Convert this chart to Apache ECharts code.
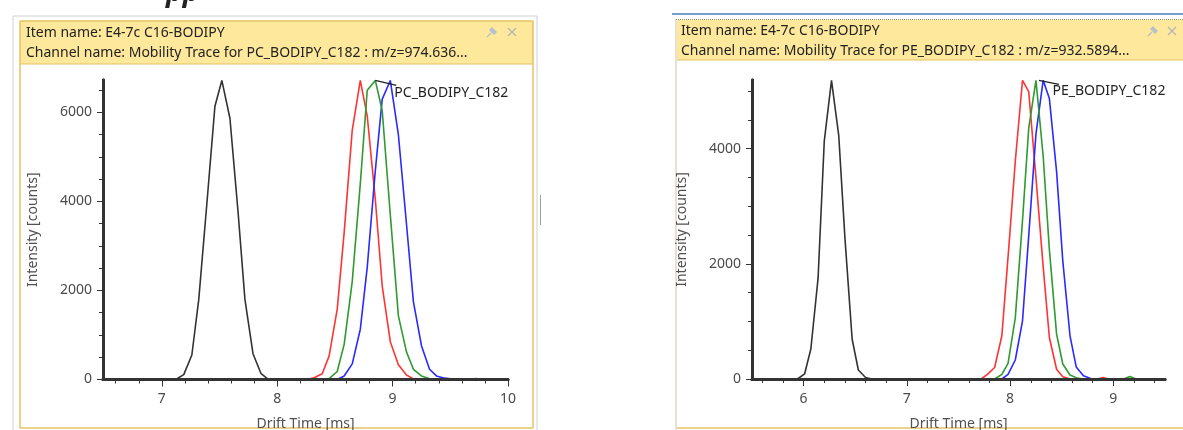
<!DOCTYPE html>
<html>
<head>
<meta charset="utf-8">
<script src="https://cdn.jsdelivr.net/npm/echarts@6/dist/echarts.min.js"></script>
<style>
html, body { margin: 0; padding: 0; background: #fff; }
#main { width: 1183px; height: 430px; }
</style>
</head>
<body>
<div id="main"></div>
<script>
var FONT = '"Noto Sans", "Open Sans", sans-serif';

// left panel: PC_BODIPY_C182, [drift time ms, intensity counts]
var pcItem = 'Item name: E4-7c C16-BODIPY';
var pcChannel = 'Channel name: Mobility Trace for PC_BODIPY_C182 : m/z=974.636...';
var pcLabel = 'PC_BODIPY_C182';
var pcBlack = [[6.49,0],[7.12,0],[7.19,110],[7.26,550],[7.32,1800],[7.39,3950],[7.46,6140],[7.52,6720],[7.59,5870],[7.66,3780],[7.72,1800],[7.79,580],[7.86,130],[7.92,10],[7.99,0],[10,0]];
var pcRed = [[6.49,0],[8.26,0],[8.32,40],[8.39,130],[8.45,530],[8.52,1580],[8.58,3300],[8.65,5600],[8.72,6720],[8.78,5920],[8.85,4050],[8.91,2100],[8.98,850],[9.05,330],[9.12,100],[9.18,15],[9.25,0],[10,0]];
var pcGreen = [[6.49,0],[8.38,0],[8.45,20],[8.52,180],[8.58,790],[8.65,2200],[8.72,4400],[8.78,6500],[8.85,6720],[8.91,6040],[8.98,3700],[9.05,1430],[9.12,620],[9.18,230],[9.25,80],[9.32,15],[9.38,0],[9.65,0],[9.72,20],[9.78,0],[10,0]];
var pcBlue = [[6.49,0],[8.52,0],[8.58,80],[8.65,350],[8.72,1130],[8.78,2520],[8.85,4690],[8.91,6300],[8.98,6720],[9.05,5500],[9.12,3500],[9.18,1750],[9.25,760],[9.32,230],[9.38,80],[9.45,30],[9.52,8],[9.58,0],[10,0]];
var pcTimeTicks = [7, 8, 9, 10];
var pcTimeMinor = [6.6, 6.8, 7.2, 7.4, 7.6, 7.8, 8.2, 8.4, 8.6, 8.8, 9.2, 9.4, 9.6, 9.8];
var pcCountTicks = [0, 2000, 4000, 6000];
var pcCountMinor = [500, 1000, 1500, 2500, 3000, 3500, 4500, 5000, 5500, 6500];

// right panel: PE_BODIPY_C182
var peItem = 'Item name: E4-7c C16-BODIPY';
var peChannel = 'Channel name: Mobility Trace for PE_BODIPY_C182 : m/z=932.5894...';
var peLabel = 'PE_BODIPY_C182';
var peBlack = [[5.5,0],[5.94,0],[6.01,90],[6.07,520],[6.14,1750],[6.20,4130],[6.27,5185],[6.34,4230],[6.40,2450],[6.47,690],[6.53,156],[6.60,25],[6.66,0],[9.5,0]];
var peRed = [[5.5,0],[7.72,0],[7.78,80],[7.85,200],[7.92,750],[7.99,2350],[8.05,3780],[8.12,5185],[8.18,4990],[8.25,3500],[8.32,1950],[8.38,720],[8.45,170],[8.51,40],[8.58,0],[8.85,0],[8.9,25],[8.95,0],[9.5,0]];
var peGreen = [[5.5,0],[7.85,0],[7.92,80],[7.98,270],[8.05,1060],[8.12,2750],[8.18,4350],[8.25,5185],[8.32,3870],[8.38,2250],[8.45,780],[8.51,260],[8.58,70],[8.65,15],[8.71,0],[9.1,0],[9.16,45],[9.22,0],[9.5,0]];
var peBlue = [[5.5,0],[7.92,0],[7.98,80],[8.05,330],[8.12,1010],[8.18,2480],[8.25,4250],[8.32,5185],[8.38,4870],[8.45,3600],[8.51,2050],[8.58,750],[8.64,210],[8.71,55],[8.78,10],[8.85,0],[9.5,0]];
var peTimeTicks = [6, 7, 8, 9];
var peTimeMinor = [5.6, 5.8, 6.2, 6.4, 6.6, 6.8, 7.2, 7.4, 7.6, 7.8, 8.2, 8.4, 8.6, 8.8, 9.2, 9.4];
var peCountTicks = [0, 2000, 4000];
var peCountMinor = [500, 1000, 1500, 2500, 3000, 3500, 4500, 5000];

var xName = 'Drift Time [ms]';
var yName = 'Intensity [counts]';
var AXIS = '#333333';

// main axis (labels, long ticks) + overlay axis for the short minor ticks; both draw the line
function axisPair(dim, grid, min, max, ticks, minor, name) {
  var isX = dim === 'x';
  var line = { show: true, onZero: false, lineStyle: { color: AXIS, width: 3 } };
  var main = {
    type: 'value', gridIndex: grid, min: min, max: max,
    position: isX ? 'bottom' : 'left',
    name: name, nameLocation: 'middle', nameGap: isX ? 38 : 63,
    nameTextStyle: { color: '#505050', fontSize: 14, fontFamily: FONT },
    axisLine: line,
    axisTick: { show: true, customValues: ticks, length: isX ? 7 : 6, lineStyle: { color: AXIS, width: 1 } },
    axisLabel: {
      customValues: ticks, margin: isX ? 13 : 11, color: '#4a4a4a', fontSize: 14, fontFamily: FONT,
      formatter: function (v) { return String(v); }
    },
    splitLine: { show: false },
    zlevel: 1
  };
  var sub = {
    type: 'value', gridIndex: grid, min: min, max: max,
    position: isX ? 'bottom' : 'left',
    axisLine: line,
    axisTick: { show: true, customValues: minor, length: 4, lineStyle: { color: AXIS, width: 1 } },
    axisLabel: { show: false },
    splitLine: { show: false },
    zlevel: 1
  };
  return [main, sub];
}

function trace(data, color, xi, yi) {
  return {
    type: 'line', data: data, xAxisIndex: xi, yAxisIndex: yi,
    showSymbol: false, symbol: 'none', silent: true,
    lineStyle: { color: color, width: 1.6 }, itemStyle: { color: color }
  };
}

var chart = echarts.init(document.getElementById('main'));

chart.setOption({
  animation: false,
  backgroundColor: '#fff',
  grid: [
    { left: 103, top: 80, width: 405, height: 299.5, outerBoundsMode: 'none' },
    { left: 752, top: 80, width: 413, height: 299, outerBoundsMode: 'none' }
  ],
  xAxis: axisPair('x', 0, 6.49, 10, pcTimeTicks, pcTimeMinor, xName)
    .concat(axisPair('x', 1, 5.5, 9.5, peTimeTicks, peTimeMinor, xName)),
  yAxis: axisPair('y', 0, 0, 6730, pcCountTicks, pcCountMinor, yName)
    .concat(axisPair('y', 1, 0, 5190, peCountTicks, peCountMinor, yName)),
  series: [
    trace(pcBlack, '#333333', 0, 0),
    trace(pcRed, '#ff3333', 0, 0),
    trace(pcBlue, '#2a2aff', 0, 0),
    trace(pcGreen, '#2f9a2f', 0, 0),
    trace(peBlack, '#333333', 2, 2),
    trace(peRed, '#ff3333', 2, 2),
    trace(peBlue, '#2a2aff', 2, 2),
    trace(peGreen, '#2f9a2f', 2, 2)
  ]
});

function peakOf(arr) {
  var best = arr[0];
  arr.forEach(function (p) { if (p[1] > best[1]) best = p; });
  return best;
}

// leader line + peak annotation placed from the library's own scales
var pcPeak = chart.convertToPixel({ xAxisIndex: 0, yAxisIndex: 0 }, peakOf(pcGreen));
var pePeak = chart.convertToPixel({ xAxisIndex: 2, yAxisIndex: 2 }, peakOf(peGreen));

var HEAD = '#fee89b';
var GOLD = '#e6c262';

function closeIcons(px, xx, y) {
  return [
    { type: 'polygon', shape: { points: [[px, y - 5], [px + 5, y], [px + 2, y + 3], [px - 3, y - 2]] }, style: { fill: '#b9c0ca' } },
    { type: 'line', shape: { x1: px - 1, y1: y + 1, x2: px - 5, y2: y + 5 }, style: { stroke: '#b9c0ca', lineWidth: 1.2 } },
    { type: 'line', shape: { x1: xx - 4, y1: y - 4, x2: xx + 4, y2: y + 4 }, style: { stroke: '#b5b5b5', lineWidth: 1.2 } },
    { type: 'line', shape: { x1: xx - 4, y1: y + 4, x2: xx + 4, y2: y - 4 }, style: { stroke: '#b5b5b5', lineWidth: 1.2 } }
  ];
}

// panel chrome: plain edge lines, kept below the plot
var frame = [
  { type: 'line', shape: { x1: 13, y1: 16, x2: 537, y2: 16 }, style: { stroke: '#d0d0d0', lineWidth: 1 } },
  { type: 'line', shape: { x1: 13, y1: 16, x2: 13, y2: 430 }, style: { stroke: '#d0d0d0', lineWidth: 1 } },
  { type: 'line', shape: { x1: 537, y1: 16, x2: 537, y2: 430 }, style: { stroke: '#d0d0d0', lineWidth: 1 } },
  { type: 'rect', shape: { x: 540, y: 195, width: 1, height: 30 }, style: { fill: '#a0a0a0' } },
  { type: 'rect', shape: { x: 20, y: 21, width: 513, height: 43 }, style: { fill: HEAD } },
  { type: 'line', shape: { x1: 20, y1: 21, x2: 533, y2: 21 }, style: { stroke: GOLD, lineWidth: 1.5 } },
  { type: 'line', shape: { x1: 20, y1: 21, x2: 20, y2: 428 }, style: { stroke: GOLD, lineWidth: 1.5 } },
  { type: 'line', shape: { x1: 533, y1: 21, x2: 533, y2: 428 }, style: { stroke: GOLD, lineWidth: 1.5 } },
  { type: 'line', shape: { x1: 20, y1: 428, x2: 533, y2: 428 }, style: { stroke: GOLD, lineWidth: 1.5 } },
  { type: 'line', shape: { x1: 20, y1: 64, x2: 533, y2: 64 }, style: { stroke: GOLD, lineWidth: 1 } },
  { type: 'line', shape: { x1: 672, y1: 14, x2: 1183, y2: 14 }, style: { stroke: '#4a7ebb', lineWidth: 1.5 } },
  { type: 'rect', shape: { x: 677, y: 20, width: 510, height: 40 }, style: { fill: HEAD } },
  { type: 'line', shape: { x1: 676, y1: 19.5, x2: 1183, y2: 19.5 }, style: { stroke: '#9a8a50', lineWidth: 1, lineDash: [1, 1] } },
  { type: 'line', shape: { x1: 676, y1: 19.5, x2: 676, y2: 430 }, style: { stroke: '#9a8a50', lineWidth: 1, lineDash: [1, 1] } },
  { type: 'line', shape: { x1: 677, y1: 60, x2: 1183, y2: 60 }, style: { stroke: GOLD, lineWidth: 1 } },
  { type: 'line', shape: { x1: 677, y1: 428, x2: 1183, y2: 428 }, style: { stroke: GOLD, lineWidth: 1.5 } }
].concat(closeIcons(492, 512, 32), closeIcons(1153, 1172, 31));
frame.forEach(function (g) { g.z = -1; g.silent = true; });

var texts = [
  // cropped heading above the left panel
  { type: 'text', x: 166, y: 7, style: { text: 'pp', font: 'italic bold 28px ' + FONT, fill: '#222', verticalAlign: 'bottom' } },
  { type: 'text', x: 26, y: 33, style: { text: pcItem, font: '14px ' + FONT, fill: '#222', verticalAlign: 'middle' } },
  { type: 'text', x: 26, y: 53, style: { text: pcChannel, font: '14px ' + FONT, fill: '#222', verticalAlign: 'middle' } },
  { type: 'text', x: 681, y: 31, style: { text: peItem, font: '14px ' + FONT, fill: '#222', verticalAlign: 'middle' } },
  { type: 'text', x: 681, y: 51, style: { text: peChannel, font: '14px ' + FONT, fill: '#222', verticalAlign: 'middle' } },
  // peak annotations
  { type: 'line', shape: { x1: pcPeak[0], y1: pcPeak[1], x2: pcPeak[0] + 21, y2: pcPeak[1] + 5 }, style: { stroke: '#222', lineWidth: 1.2 } },
  { type: 'text', x: pcPeak[0] + 19, y: pcPeak[1] + 12.5, style: { text: pcLabel, font: '14px ' + FONT, fill: '#222', verticalAlign: 'middle' } },
  { type: 'line', shape: { x1: pePeak[0] + 3, y1: pePeak[1], x2: pePeak[0] + 23, y2: pePeak[1] + 4 }, style: { stroke: '#222', lineWidth: 1.2 } },
  { type: 'text', x: pePeak[0] + 16.5, y: pePeak[1] + 10.5, style: { text: peLabel, font: '14px ' + FONT, fill: '#222', verticalAlign: 'middle' } }
];
texts.forEach(function (g) { g.z = 10; g.silent = true; });

chart.setOption({ graphic: frame.concat(texts) });
</script>
</body>
</html>
